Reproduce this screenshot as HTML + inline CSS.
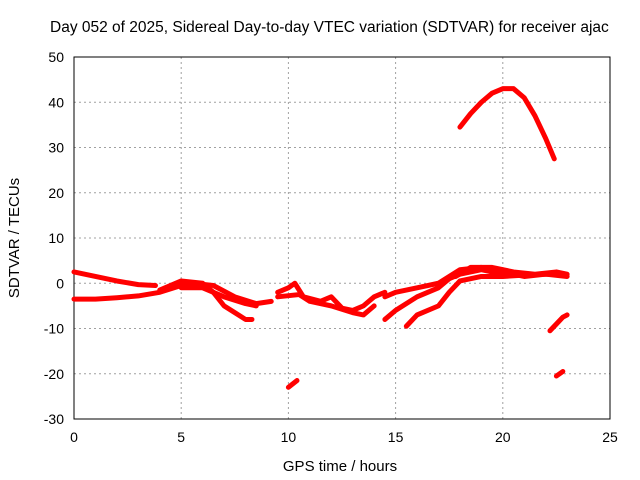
<!DOCTYPE html>
<html><head><meta charset="utf-8"><style>
body{margin:0;background:#fff;overflow:hidden}
svg{display:block;font-family:"Liberation Sans",sans-serif}
</style></head><body>
<svg id="c" width="640" height="480"></svg>
<script>
const xTicks=[0,5,10,15,20,25];
const yTicks=[-30,-20,-10,0,10,20,30,40,50];
const t1=[[0,2.5],[1,1.5],[2,0.5],[3,-0.3],[3.8,-0.5]];
const t2=[[0,-3.5],[1,-3.5],[2,-3.2],[3,-2.8],[4,-2],[5,-0.5],[5.5,0],[6.5,-0.5],[7.5,-3],[8.5,-4.5],[9.2,-4]];
const t3=[[4,-1.5],[5,0.5],[6,0],[6.5,-2],[7,-5],[7.5,-6.5],[8,-8],[8.3,-8]];
const t4=[[5,-1],[6,-1],[7,-3],[8,-4.5],[8.5,-5]];
const t5=[[9.5,-2],[10,-1],[10.3,0],[10.7,-3],[11.5,-4],[12,-3],[12.5,-5.5],[13,-6],[13.5,-5],[14,-3],[14.5,-2]];
const t6=[[9.5,-3],[10.5,-2.5],[11,-4],[12,-5],[13,-6.5],[13.5,-7],[14,-5]];
const t7=[[14.5,-3],[15,-2],[16,-1],[17,0],[18,3],[19,3.5],[20,2.5],[21,1.5],[22,2],[23,1.5]];
const t8=[[14.5,-8],[15,-6],[16,-3],[17,-1],[17.5,1],[18,2],[19,3],[20,2]];
const t9=[[15.5,-9.5],[16,-7],[17,-5],[17.5,-2],[18,0.5],[19,1.5],[20,1.5],[21,1.8],[22,2],[22.8,2]];
const t10=[[17.8,1.5],[18.5,3.5],[19.5,3.5],[20.5,2.5],[21.5,2],[22.5,2.5],[23,2]];
const t11=[[18,34.5],[18.5,37.5],[19,40],[19.5,42],[20,43],[20.5,43],[21,41],[21.5,37],[22,32],[22.4,27.5]];
const t12=[[10,-23],[10.4,-21.5]];
const t13=[[22.2,-10.5],[22.5,-9],[22.8,-7.5],[23,-7]];
const t14=[[22.5,-20.5],[22.8,-19.5]];
const tracks=[t1,t2,t3,t4,t5,t6,t7,t8,t9,t10,t11,t12,t13,t14];
const L=74,R=610,T=57,B=419;
const xs=v=>L+(v-0)/25*(R-L);
const ys=v=>B-(v+30)/80*(B-T);
const ns="http://www.w3.org/2000/svg";
const svg=document.getElementById('c');
function mk(tag,a,txt){const e=document.createElementNS(ns,tag);for(const k in a)e.setAttribute(k,a[k]);if(txt!==undefined)e.textContent=txt;svg.appendChild(e);return e;}
xTicks.forEach(v=>{
 if(v>0&&v<25){const g=mk('line',{x1:xs(v),x2:xs(v),y1:T,y2:B,stroke:'#a0a0a0','stroke-dasharray':'2,3'});
 
 }
 const t=mk('text',{x:xs(v),y:B+23,'text-anchor':'middle','font-size':14},String(v));
 
 
});
yTicks.forEach(v=>{
 if(v>-30&&v<50){const g=mk('line',{x1:L,x2:R,y1:ys(v),y2:ys(v),stroke:'#a0a0a0','stroke-dasharray':'2,3'});
 
 }
 const t=mk('text',{x:L-10,y:ys(v)+5,'text-anchor':'end','font-size':14},String(v));
 
 
});
const f=mk('rect',{x:L,y:T,width:R-L,height:B-T,fill:'none',stroke:'#000'});


tracks.forEach(tr=>{
 const p=mk('polyline',{points:tr.map(d=>xs(d[0])+','+ys(d[1])).join(' '),fill:'none',stroke:'#ff0000','stroke-width':5,'stroke-linejoin':'round','stroke-linecap':'round'});
 
 
});
const ti=mk('text',{x:50,y:32,'text-anchor':'start','font-size':15.5},'Day 052 of 2025, Sidereal Day-to-day VTEC variation (SDTVAR) for receiver ajac');


const xl=mk('text',{x:340,y:471,'text-anchor':'middle','font-size':15},'GPS time / hours');


const yl=mk('text',{x:0,y:0,'text-anchor':'middle','font-size':15,transform:'translate(19,238) rotate(-90)'},'SDTVAR / TECUs');


</script>
</body></html>
